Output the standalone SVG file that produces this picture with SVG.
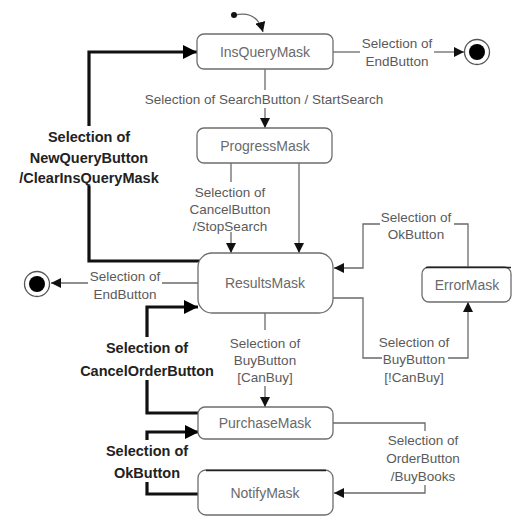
<svg xmlns="http://www.w3.org/2000/svg" width="513" height="519" viewBox="0 0 513 519">
  <style>
    .state { fill: #ffffff; stroke: #6e6e6e; stroke-width: 1.3; }
    .name { font-family: "Liberation Sans", Arial, sans-serif; font-size: 14px; fill: #6a6a6a; text-anchor: middle; }
    .lbl { font-family: "Liberation Sans", Arial, sans-serif; font-size: 13.5px; fill: #5a5a5a; text-anchor: middle; }
    .blbl { font-family: "Liberation Sans", Arial, sans-serif; font-size: 14.5px; font-weight: bold; fill: #222222; text-anchor: middle; }
    .thin { fill: none; stroke: #6a6a6a; stroke-width: 1.3; }
    .thick { fill: none; stroke: #111111; stroke-width: 3.2; }
  </style>
  <defs>
    <marker id="ah" viewBox="0 0 10 10" refX="10" refY="5" markerWidth="10" markerHeight="10" markerUnits="userSpaceOnUse" orient="auto">
      <path d="M0,0 L10,5 L0,10 z" fill="#111111"/>
    </marker>
    <marker id="ahb" viewBox="0 0 10 10" refX="10" refY="5" markerWidth="14" markerHeight="14" markerUnits="userSpaceOnUse" orient="auto">
      <path d="M0,0 L10,5 L0,10 z" fill="#000000"/>
    </marker>
  </defs>

  <!-- transitions -->
  <g id="connectors">
    <!-- initial pseudo-state to InsQueryMask -->
    <path class="thin" d="M235,15 Q257,10 263,32" stroke="#222" marker-end="url(#ah)"/>
    <!-- InsQueryMask -> end -->
    <line class="thin" x1="333" y1="52" x2="360" y2="52"/>
    <line class="thin" x1="434" y1="52" x2="464" y2="52" marker-end="url(#ah)"/>
    <!-- InsQueryMask -> ProgressMask -->
    <line class="thin" x1="265" y1="69" x2="265" y2="90"/>
    <line class="thin" x1="265" y1="108" x2="265" y2="128" marker-end="url(#ah)"/>
    <!-- ProgressMask -> ResultsMask (cancel) -->
    <line class="thin" x1="231" y1="163" x2="231" y2="182"/>
    <line class="thin" x1="231" y1="232" x2="231" y2="253" marker-end="url(#ah)"/>
    <!-- ProgressMask -> ResultsMask -->
    <line class="thin" x1="299" y1="163" x2="299" y2="253" marker-end="url(#ah)"/>
    <!-- ResultsMask -> InsQueryMask (new query) -->
    <path class="thick" d="M200,261 L89,261 L89,186"/>
    <path class="thick" d="M89,126 L89,52 L197,52" marker-end="url(#ahb)"/>
    <!-- ResultsMask -> end -->
    <line class="thin" x1="198" y1="283" x2="162" y2="283"/>
    <line class="thin" x1="88" y1="283" x2="51" y2="283" marker-end="url(#ah)"/>
    <!-- ErrorMask -> ResultsMask -->
    <path class="thin" d="M468,267 L468,224 L454,224"/>
    <path class="thin" d="M380,224 L363,224 L363,268 L334,268" marker-end="url(#ah)"/>
    <!-- ResultsMask -> ErrorMask -->
    <path class="thin" d="M333,298 L363,298 L363,358 L382,358"/>
    <path class="thin" d="M448,358 L468,358 L468,302" marker-end="url(#ah)"/>
    <!-- ResultsMask -> PurchaseMask -->
    <line class="thin" x1="265" y1="313" x2="265" y2="330"/>
    <line class="thin" x1="265" y1="386" x2="265" y2="407" marker-end="url(#ah)"/>
    <!-- PurchaseMask -> ResultsMask (cancel order) -->
    <path class="thick" d="M199,413 L147,413 L147,380"/>
    <path class="thick" d="M147,337 L147,307 L198,307" marker-end="url(#ahb)"/>
    <!-- NotifyMask -> PurchaseMask -->
    <path class="thick" d="M199,494 L147,494 L147,482"/>
    <path class="thick" d="M147,440 L147,432 L199,432" marker-end="url(#ahb)"/>
    <!-- PurchaseMask -> NotifyMask -->
    <path class="thin" d="M333,423 L425,423 L425,431"/>
    <path class="thin" d="M425,485 L425,493 L334,493" marker-end="url(#ah)"/>
  </g>

  <!-- pseudo-states -->
  <g id="initial">
    <circle cx="234" cy="15" r="3" fill="#111111"/>
  </g>
  <g id="final-top">
    <circle cx="477" cy="52" r="12.5" fill="#ffffff" stroke="#555" stroke-width="1.3"/>
    <circle cx="477" cy="52" r="8" fill="#000000"/>
  </g>
  <g id="final-left">
    <circle cx="37" cy="284" r="12.5" fill="#ffffff" stroke="#555" stroke-width="1.3"/>
    <circle cx="37" cy="284" r="8" fill="#000000"/>
  </g>

  <!-- states -->
  <g id="InsQueryMask">
    <rect class="state" x="197" y="34" width="136" height="35" rx="7"/>
    <text class="name" x="265" y="57">InsQueryMask</text>
  </g>
  <g id="ProgressMask">
    <rect class="state" x="197" y="128" width="135" height="35" rx="7"/>
    <text class="name" x="265" y="151">ProgressMask</text>
  </g>
  <g id="ResultsMask">
    <rect class="state" x="198" y="253" width="135" height="60" rx="14"/>
    <text class="name" x="265" y="288">ResultsMask</text>
  </g>
  <g id="ErrorMask">
    <rect class="state" x="422" y="267" width="89" height="35" rx="7"/>
    <line x1="426" y1="267.5" x2="511" y2="267.5" stroke="#222" stroke-width="1.6"/>
    <text class="name" x="467" y="290">ErrorMask</text>
  </g>
  <g id="PurchaseMask">
    <rect class="state" x="198" y="407" width="135" height="32" rx="7"/>
    <text class="name" x="265" y="428">PurchaseMask</text>
  </g>
  <g id="NotifyMask">
    <rect class="state" x="198" y="470" width="135" height="45" rx="8"/>
    <line x1="206" y1="470.5" x2="326" y2="470.5" stroke="#222" stroke-width="1.6"/>
    <text class="name" x="265" y="498">NotifyMask</text>
  </g>

  <!-- transition labels -->
  <g id="labels">
    <text class="lbl" x="397" y="48">Selection of</text>
    <text class="lbl" x="397" y="66">EndButton</text>
    <text class="lbl" x="264" y="104">Selection of SearchButton / StartSearch</text>
    <text class="lbl" x="230" y="197">Selection of</text>
    <text class="lbl" x="230" y="214">CancelButton</text>
    <text class="lbl" x="230" y="231">/StopSearch</text>
    <text class="lbl" x="125" y="281">Selection of</text>
    <text class="lbl" x="125" y="299">EndButton</text>
    <text class="lbl" x="416" y="222">Selection of</text>
    <text class="lbl" x="416" y="239">OkButton</text>
    <text class="lbl" x="265" y="348">Selection of</text>
    <text class="lbl" x="265" y="365">BuyButton</text>
    <text class="lbl" x="265" y="382">[CanBuy]</text>
    <text class="lbl" x="414" y="347">Selection of</text>
    <text class="lbl" x="414" y="364">BuyButton</text>
    <text class="lbl" x="414" y="382">[!CanBuy]</text>
    <text class="lbl" x="423" y="445">Selection of</text>
    <text class="lbl" x="423" y="463">OrderButton</text>
    <text class="lbl" x="423" y="481">/BuyBooks</text>
    <text class="blbl" x="89" y="142">Selection of</text>
    <text class="blbl" x="89" y="163">NewQueryButton</text>
    <text class="blbl" x="89" y="183">/ClearInsQueryMask</text>
    <text class="blbl" x="147" y="353">Selection of</text>
    <text class="blbl" x="147" y="376">CancelOrderButton</text>
    <text class="blbl" x="147" y="456">Selection of</text>
    <text class="blbl" x="147" y="478">OkButton</text>
  </g>
</svg>
